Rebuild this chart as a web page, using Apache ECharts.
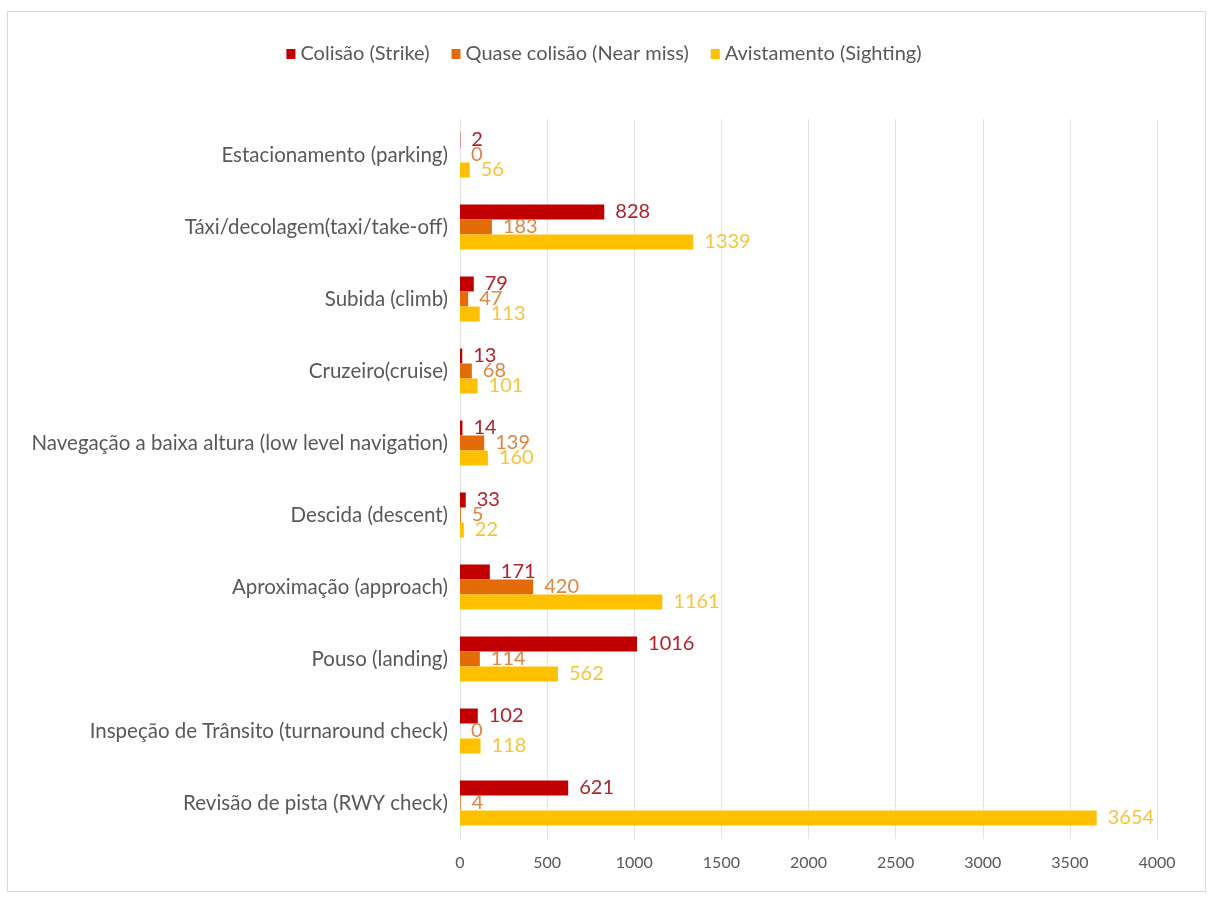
<!DOCTYPE html>
<html>
<head>
<meta charset="utf-8">
<script src="https://cdn.jsdelivr.net/npm/echarts@6/dist/echarts.min.js"></script>
<style>
  html, body { margin: 0; padding: 0; background: #fff; }
  #frame { position: absolute; left: 7px; top: 11px; width: 1199px; height: 881px; border: 1px solid #d9d9d9; box-sizing: border-box; }
  #chart { position: absolute; left: 0; top: 0; width: 1208px; height: 897px; }
</style>
</head>
<body>
<div id="frame"></div>
<div id="chart"></div>
<script>
// Flight phases, top to bottom
const phases = [
  'Estacionamento (parking)',
  'Táxi/decolagem(taxi/take-off)',
  'Subida (climb)',
  'Cruzeiro(cruise)',
  'Navegação a baixa altura (low level navigation)',
  'Descida (descent)',
  'Aproximação (approach)',
  'Pouso (landing)',
  'Inspeção de Trânsito (turnaround check)',
  'Revisão de pista (RWY check)'
];
const strike   = [2, 828, 79, 13, 14, 33, 171, 1016, 102, 621];
const nearMiss = [0, 183, 47, 68, 139, 5, 420, 114, 0, 4];
const sighting = [56, 1339, 113, 101, 160, 22, 1161, 562, 118, 3654];
const seriesNames = ['Colisão (Strike)', 'Quase colisão (Near miss)', 'Avistamento (Sighting)'];
const xTicks = [0, 500, 1000, 1500, 2000, 2500, 3000, 3500, 4000];

const FONT = 'Lato, "Open Sans", sans-serif';
const colors = ['#c00000', '#e36c09', '#ffc000'];
const labelColors = ['#b3222b', '#de8544', '#f7c43d'];

function bar(name, data, i) {
  return {
    name, type: 'bar', data,
    barWidth: 15, barGap: '0%',
    itemStyle: { color: colors[i] },
    label: {
      show: true, position: 'right', distance: 11,
      color: labelColors[i], fontFamily: FONT, fontSize: 20
    }
  };
}

const chart = echarts.init(document.getElementById('chart'));
chart.setOption({
  animation: false,
  legend: {
    top: 39, left: 'center',
    itemWidth: 9, itemHeight: 10, itemGap: 22,
    icon: 'rect',
    textStyle: { color: '#595959', fontFamily: FONT, fontSize: 20 },
    data: seriesNames
  },
  grid: { left: 460, right: 51, top: 119, bottom: 58, containLabel: false },
  xAxis: {
    type: 'value', min: xTicks[0], max: xTicks[xTicks.length - 1], interval: 500,
    axisLine: { show: false }, axisTick: { show: false },
    axisLabel: { color: '#595959', fontFamily: FONT, fontSize: 16, margin: 16, formatter: v => String(v) },
    splitLine: { lineStyle: { color: '#e3e3e3', width: 1 } }
  },
  yAxis: {
    type: 'category', data: phases, inverse: true,
    axisLine: { show: false }, axisTick: { show: false },
    axisLabel: { color: '#595959', fontFamily: FONT, fontSize: 20.5, margin: 12 }
  },
  series: [bar(seriesNames[0], strike, 0), bar(seriesNames[1], nearMiss, 1), bar(seriesNames[2], sighting, 2)]
});
</script>
</body>
</html>
